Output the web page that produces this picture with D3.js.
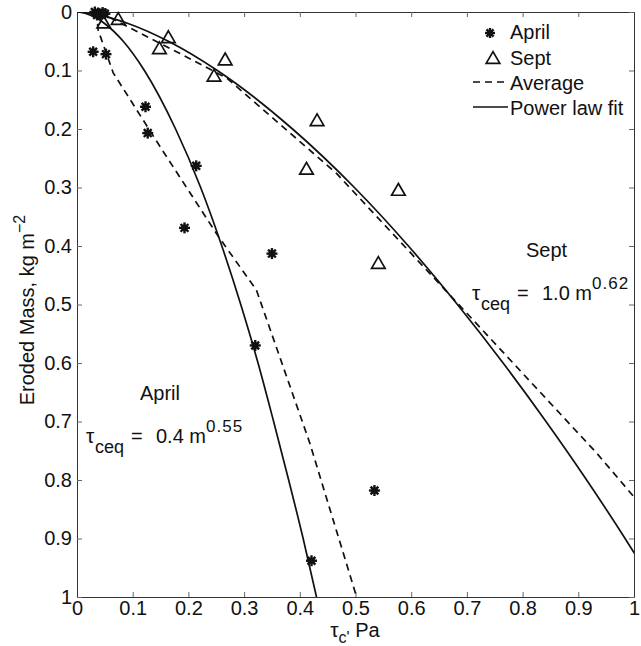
<!DOCTYPE html>
<html><head><meta charset="utf-8">
<script src="https://cdn.jsdelivr.net/npm/d3@7"></script>
<style>
body{margin:0;background:#fff;}
text{font-family:"Liberation Sans",Arial,sans-serif;fill:#111;}
</style></head>
<body><svg id="c" width="641" height="646"></svg>
<script>
// ---- data (x = tau_c [Pa], y = eroded mass [kg m^-2]) ----
const aprilTau  = [0.032,0.038,0.042,0.046,0.05,0.036,0.029,0.052,0.123,0.127,0.214,0.193,0.350,0.320,0.534,0.421];
const aprilMass = [0.000,0.002,0.004,0.001,0.003,0.005,0.068,0.072,0.162,0.207,0.263,0.369,0.413,0.570,0.818,0.938];
const septTau   = [0.048,0.074,0.148,0.164,0.246,0.266,0.431,0.412,0.577,0.541];
const septMass  = [0.018,0.012,0.062,0.043,0.109,0.081,0.185,0.268,0.304,0.429];
// average curves (dashed)
const aprilAvgTau  = [0.035,0.038,0.065,0.149,0.254,0.322,0.418,0.502];
const aprilAvgMass = [0.000,0.031,0.104,0.230,0.384,0.475,0.737,1.000];
const septAvgTau   = [0.040,0.125,0.185,0.269,0.466,0.700,0.933,1.000];
const septAvgMass  = [0.000,0.042,0.071,0.113,0.276,0.515,0.754,0.829];
// power law fits (solid), tau = a m^b
const aprilFitMass = [0,0.002,0.005,0.01,0.02,0.05,0.1,0.2,0.3,0.4,0.5,0.6,0.7,0.8,0.9,1.0];
const aprilFitTau  = [0,0.014,0.023,0.034,0.050,0.083,0.121,0.177,0.222,0.260,0.294,0.325,0.353,0.380,0.406,0.430];
const septFitMass  = [0,0.002,0.005,0.01,0.02,0.05,0.1,0.2,0.3,0.4,0.5,0.6,0.7,0.8,0.9,0.95];
const septFitTau   = [0,0.022,0.039,0.060,0.093,0.164,0.252,0.387,0.498,0.595,0.683,0.765,0.842,0.915,0.984,1.017];
const xTicks = [0,0.1,0.2,0.3,0.4,0.5,0.6,0.7,0.8,0.9,1];
const yTicks = [0,0.1,0.2,0.3,0.4,0.5,0.6,0.7,0.8,0.9,1];
const xTickLabels = ["0","0.1","0.2","0.3","0.4","0.5","0.6","0.7","0.8","0.9","1"];
const yTickLabels = ["0","0.1","0.2","0.3","0.4","0.5","0.6","0.7","0.8","0.9","1"];
const legendLabels = ["April","Sept","Average","Power law fit"];

const svg = d3.select("#c");
const L=77, T=12, W=557, H=585;
const x = d3.scaleLinear().domain([0,1]).range([L,L+W]);
const y = d3.scaleLinear().domain([0,1]).range([T,T+H]);
const FS = 20;

svg.append("defs").append("clipPath").attr("id","clip")
  .append("rect").attr("x",L).attr("y",T).attr("width",W).attr("height",H);

// axes box with inward ticks on all sides
const ax = svg.append("g");
ax.append("g").attr("transform",`translate(0,${T+H})`)
  .call(d3.axisBottom(x).tickValues(xTicks).tickSizeInner(-5).tickSizeOuter(0).tickFormat((d,i)=>xTickLabels[i]))
  .call(g=>{g.selectAll("text").attr("y",4).attr("dy","0.71em").style("font-size",FS+"px").style("font-family","Liberation Sans, Arial");});
ax.append("g").attr("transform",`translate(0,${T})`)
  .call(d3.axisTop(x).tickValues(xTicks).tickSizeInner(-5).tickSizeOuter(0).tickFormat(""));
ax.append("g").attr("transform",`translate(${L},0)`)
  .call(d3.axisLeft(y).tickValues(yTicks).tickSizeInner(-5).tickSizeOuter(0).tickFormat((d,i)=>yTickLabels[i]))
  .call(g=>{g.selectAll("text").attr("x",-5).style("font-size",FS+"px").style("font-family","Liberation Sans, Arial");});
ax.append("g").attr("transform",`translate(${L+W},0)`)
  .call(d3.axisRight(y).tickValues(yTicks).tickSizeInner(-5).tickSizeOuter(0).tickFormat(""));
ax.selectAll(".domain").attr("stroke","#333").attr("stroke-width",1);
ax.selectAll(".tick line").attr("stroke","#666");
ax.selectAll("text").attr("fill","#111");

const plot = svg.append("g").attr("clip-path","url(#clip)");
const line = d3.line().x(d=>x(d[0])).y(d=>y(d[1]));
const smooth = d3.line().x(d=>x(d[0])).y(d=>y(d[1])).curve(d3.curveMonotoneX);
const zip=(a,b)=>a.map((v,i)=>[v,b[i]]);

plot.append("path").datum(zip(aprilAvgTau,aprilAvgMass)).attr("d",line)
  .attr("fill","none").attr("stroke","#111").attr("stroke-width",1.7).attr("stroke-dasharray","7,5");
plot.append("path").datum(zip(septAvgTau,septAvgMass)).attr("d",line)
  .attr("fill","none").attr("stroke","#111").attr("stroke-width",1.7).attr("stroke-dasharray","7,5");
plot.append("path").datum(zip(aprilFitTau,aprilFitMass)).attr("d",smooth)
  .attr("fill","none").attr("stroke","#111").attr("stroke-width",1.7);
plot.append("path").datum(zip(septFitTau,septFitMass)).attr("d",smooth)
  .attr("fill","none").attr("stroke","#111").attr("stroke-width",1.7);

function asterisk(g,cx,cy,r){
  const a=g.append("g").attr("transform",`translate(${cx},${cy})`);
  for(let k=0;k<4;k++){
    const ang=k*Math.PI/4;
    a.append("line").attr("x1",-r*Math.cos(ang)).attr("y1",-r*Math.sin(ang))
     .attr("x2",r*Math.cos(ang)).attr("y2",r*Math.sin(ang))
     .attr("stroke","#111").attr("stroke-width",2.4);
  }
  a.append("circle").attr("r",r*0.6).attr("fill","#111");
}
const tri = d3.symbol().type(d3.symbolTriangle).size(80);
function triangle(g,cx,cy){
  g.append("path").attr("d",tri()).attr("transform",`translate(${cx},${cy+1.5})`)
   .attr("fill","none").attr("stroke","#111").attr("stroke-width",1.7);
}
const pts = svg.append("g");
aprilTau.forEach((t,i)=>asterisk(pts,x(t),y(aprilMass[i]),5.5));
septTau.forEach((t,i)=>triangle(pts,x(t),y(septMass[i])));

// legend
const lg = svg.append("g");
asterisk(lg,490,33,5);
triangle(lg,493,58);
lg.append("line").attr("x1",473).attr("x2",508).attr("y1",82).attr("y2",82)
  .attr("stroke","#111").attr("stroke-width",1.7).attr("stroke-dasharray","7,5");
lg.append("line").attr("x1",473).attr("x2",508).attr("y1",107).attr("y2",107)
  .attr("stroke","#111").attr("stroke-width",1.7);
[39,65,90,115].forEach((b,i)=>lg.append("text").attr("x",510).attr("y",b)
  .style("font-size",FS+"px").text(legendLabels[i]));

// annotations
function tauEq(xp,yb,coef,expo){
  const t=svg.append("text").attr("y",yb).style("font-size",FS+"px");
  t.append("tspan").attr("x",xp).text("τ").style("font-size","21px");
  t.append("tspan").attr("x",xp+9).attr("dy",10).text("ceq").style("font-size","18px");
  t.append("tspan").attr("x",xp+45).attr("dy",-10).text("=");
  t.append("tspan").attr("x",xp+70).text(coef+" m");
  t.append("tspan").attr("dy",-11).text(expo).style("font-size","17px").style("letter-spacing","1px");
}
svg.append("text").attr("x",140).attr("y",400).style("font-size",FS+"px").text("April");
tauEq(86,443,"0.4","0.55");
svg.append("text").attr("x",526).attr("y",257).style("font-size",FS+"px").text("Sept");
tauEq(472,300,"1.0","0.62");

// axis labels
const xl = svg.append("text").attr("x",355).attr("y",637).attr("text-anchor","middle").style("font-size",FS+"px");
xl.append("tspan").text("τ").style("font-size","21px");
xl.append("tspan").attr("dy",6).text("c'").style("font-size","16px");
xl.append("tspan").attr("dy",-6).text(" Pa");

const yl = svg.append("text").attr("transform","translate(34,310) rotate(-90)").attr("text-anchor","middle").style("font-size",FS+"px");
yl.append("tspan").text("Eroded Mass, kg m");
yl.append("tspan").attr("dy",-9).text("−2").style("font-size","16px");
</script></body></html>
